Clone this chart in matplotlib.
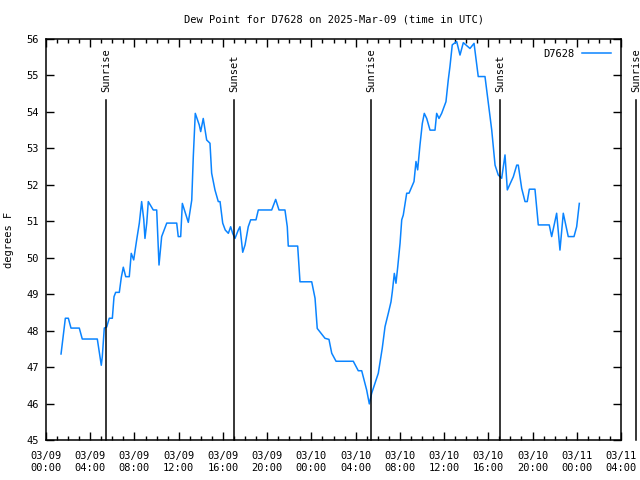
import matplotlib
matplotlib.use("Agg")
import matplotlib.pyplot as plt
from matplotlib.ticker import MultipleLocator, FixedLocator
import pandas as pd

# hours since 2025-03-09 00:00 UTC
hours = [1.36, 1.75, 2.02, 2.26, 3.01, 3.28, 4.64, 5.00, 5.09, 5.27,
         5.49, 5.72, 6.00, 6.15, 6.30, 6.63, 6.81, 6.99, 7.21, 7.53,
         7.71, 7.93, 8.20, 8.44, 8.65, 8.84, 8.95, 9.11, 9.25, 9.70,
         10.01, 10.22, 10.46, 10.92, 11.82, 11.96, 12.18, 12.33, 12.57, 12.87,
         13.18, 13.32, 13.50, 13.86, 13.99, 14.22, 14.53, 14.83, 14.98, 15.28,
         15.58, 15.74, 15.98, 16.21, 16.49, 16.70, 16.88, 17.09, 17.39, 17.54,
         17.79, 18.00, 18.29, 18.51, 18.99, 19.20, 20.41, 20.77, 21.07, 21.61,
         21.82, 21.91, 22.76, 22.97, 24.03, 24.33, 24.53, 25.23, 25.59, 25.84,
         26.23, 27.79, 28.24, 28.55, 29.00, 29.24, 29.45, 30.05, 30.41, 30.66,
         30.96, 31.20, 31.32, 31.50, 31.65, 31.81, 32.02, 32.17, 32.31, 32.62,
         32.83, 33.28, 33.46, 33.61, 33.82, 34.03, 34.21, 34.43, 34.73, 35.18,
         35.33, 35.54, 35.78, 36.17, 36.38, 36.53, 36.74, 37.14, 37.44, 37.74,
         38.34, 38.71, 39.09, 39.70, 40.00, 40.31, 40.61, 40.90, 41.21, 41.51,
         41.72, 42.26, 42.57, 42.71, 43.02, 43.32, 43.52, 43.71, 44.22, 44.52,
         45.51, 45.73, 46.18, 46.48, 46.78, 47.23, 47.75, 47.99, 48.23]
# dew point, degrees F
dewpt = [47.36, 48.34, 48.34, 48.07, 48.07, 47.77, 47.77, 47.05, 47.28, 48.07,
         48.10, 48.34, 48.34, 48.93, 49.05, 49.05, 49.46, 49.74, 49.48, 49.48,
         50.12, 49.94, 50.49, 50.95, 51.54, 51.05, 50.53, 50.95, 51.54, 51.31,
         51.31, 49.80, 50.58, 50.95, 50.95, 50.58, 50.58, 51.49, 51.26, 50.97,
         51.58, 52.77, 53.96, 53.64, 53.46, 53.82, 53.23, 53.14, 52.32, 51.86,
         51.54, 51.54, 50.95, 50.76, 50.67, 50.85, 50.67, 50.53, 50.76, 50.85,
         50.15, 50.35, 50.85, 51.04, 51.04, 51.31, 51.31, 51.60, 51.31, 51.31,
         50.85, 50.32, 50.32, 49.34, 49.34, 48.89, 48.06, 47.79, 47.76, 47.38,
         47.16, 47.16, 46.90, 46.90, 46.37, 45.99, 46.28, 46.83, 47.52, 48.11,
         48.48, 48.79, 49.07, 49.57, 49.30, 49.75, 50.40, 51.04, 51.17, 51.77,
         51.77, 52.09, 52.64, 52.41, 53.09, 53.68, 53.96, 53.82, 53.50, 53.50,
         53.96, 53.82, 53.96, 54.28, 54.88, 55.24, 55.84, 55.93, 55.56, 55.90,
         55.74, 55.88, 54.97, 54.97, 54.24, 53.50, 52.54, 52.27, 52.18, 52.82,
         51.86, 52.22, 52.54, 52.54, 51.90, 51.54, 51.54, 51.88, 51.88, 50.90,
         50.90, 50.58, 51.22, 50.21, 51.22, 50.58, 50.58, 50.85, 51.49]

sun_hours = [5.43, 16.98, 29.38, 41.05, 53.35]
sun_labels = ["Sunrise", "Sunset", "Sunrise", "Sunset", "Sunrise"]

station = "D7628"
start = pd.Timestamp("2025-03-09 00:00")
tick_hours = list(range(0, 53, 4))
tick_labels = [(start + pd.Timedelta(hours=h)).strftime("%m/%d\n%H:%M") for h in tick_hours]

plt.rcParams['font.family'] = 'DejaVu Sans Mono'
plt.rcParams['font.size'] = 7.5

fig = plt.figure(figsize=(6.4, 4.8), dpi=100)
ax = fig.add_axes([46 / 640, 40 / 480, 575 / 640, 401 / 480])

ax.plot(hours, dewpt, color='#0a84ff', lw=1.1, label=station)

for h, lab in zip(sun_hours, sun_labels):
    ax.plot([h, h], [45, 54.33], color='black', lw=1.1, clip_on=False)
    ax.text(h, 54.55, lab, rotation=90, ha='center', va='bottom', clip_on=False)

ax.set_xlim(0, 52)
ax.set_ylim(45, 56)
ax.xaxis.set_major_locator(FixedLocator(tick_hours))
ax.set_xticklabels(tick_labels, linespacing=1.25)
ax.xaxis.set_minor_locator(MultipleLocator(1))
ax.yaxis.set_major_locator(MultipleLocator(1))
ax.tick_params(which='both', direction='in', top=True, right=True, width=1)
ax.tick_params(which='major', length=6)
ax.tick_params(which='minor', length=3)
ax.tick_params(axis='x', pad=8)
ax.tick_params(axis='y', pad=5)
for s in ax.spines.values():
    s.set_linewidth(1.1)

ax.set_ylabel("degrees F", labelpad=9)
ax.set_title("Dew Point for D7628 on 2025-Mar-09 (time in UTC)", fontsize=7.5, pad=12)
ax.legend(loc='upper right', frameon=False, markerfirst=False, handlelength=2.8,
          handletextpad=0.7, borderaxespad=0.55)

fig.savefig("out.png", dpi=100)
